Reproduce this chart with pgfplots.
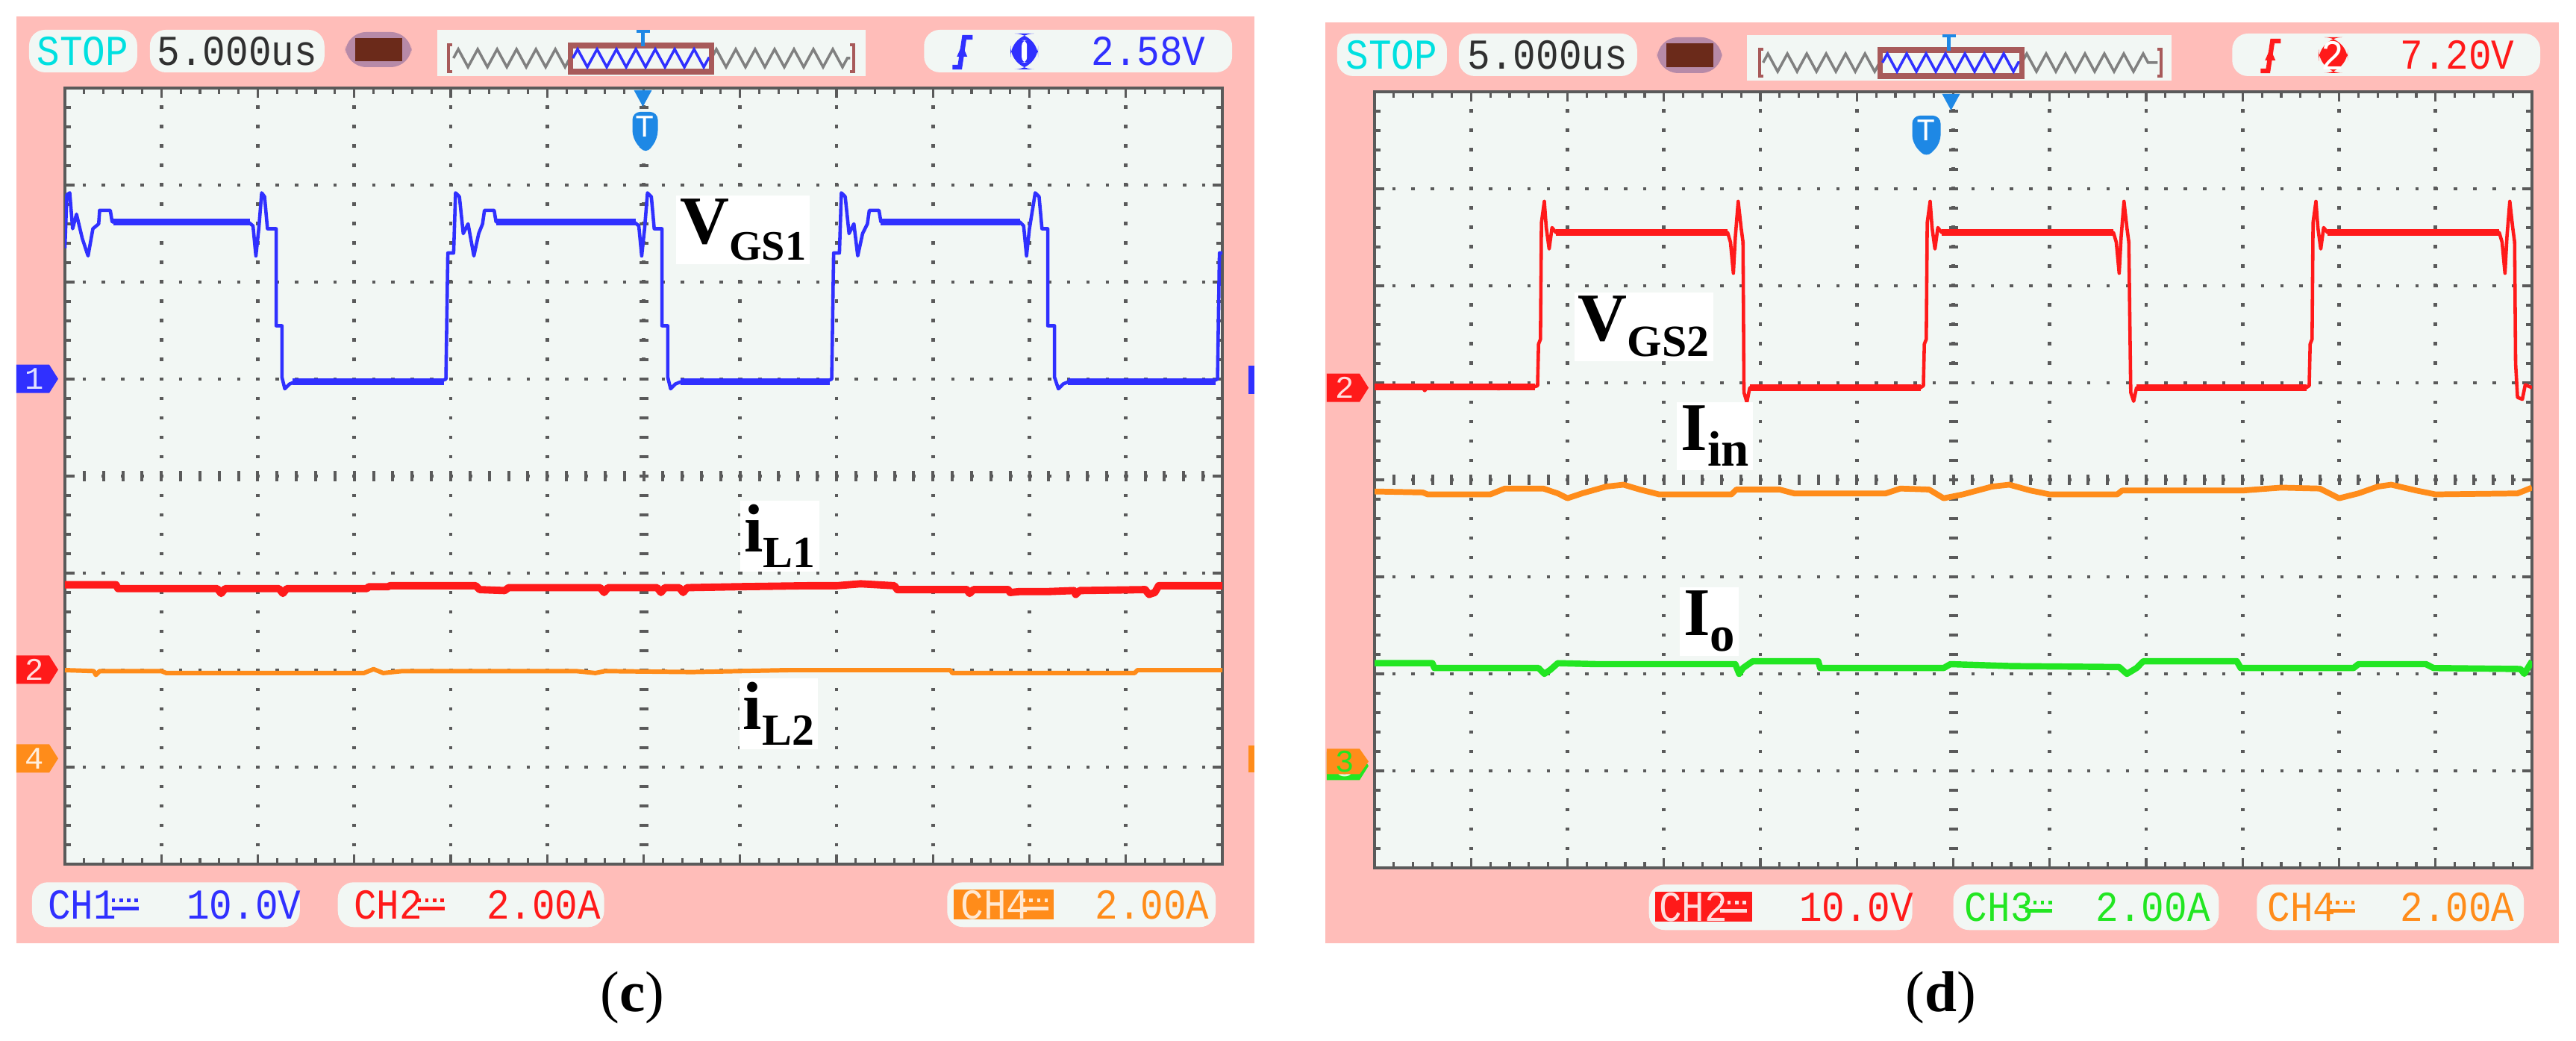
\documentclass[border=0pt]{standalone}
\usepackage{pgfplots}
\pgfplotsset{compat=1.18}
\usepackage{fontspec}
\setmainfont{Liberation Serif}
\newfontfamily\scopefont{Liberation Mono}
\usetikzlibrary{decorations.pathmorphing}

\definecolor{pinkf}{HTML}{FFBDB9}
\definecolor{scopebg}{HTML}{F2F7F4}
\definecolor{gridc}{HTML}{5A5A5A}
\definecolor{tblue}{HTML}{3030FF}
\definecolor{tred}{HTML}{FF1A1A}
\definecolor{torange}{HTML}{FF8C1A}
\definecolor{tgreen}{HTML}{22E622}
\definecolor{stopc}{HTML}{00E0E0}
\definecolor{txtgray}{HTML}{303030}
\definecolor{batt}{HTML}{6B2A1A}
\definecolor{battb}{HTML}{B78AA8}
\definecolor{winb}{HTML}{A85A5A}
\definecolor{trig}{HTML}{1E88E5}

% status-bar text: the scope's font is narrow and tall
\newcommand{\osc}[1]{\scalebox{1}[1.12]{\fontsize{14.5}{14.5}\selectfont\scopefont #1}}
% DC coupling sign: solid bar with dotted bar above, x = left, y = centre (px)
\newcommand{\dcs}[3]{%
  \draw[#1, line width=1.3pt] (#2,#3+5) -- ++(36,0);
  \draw[#1, line width=1.3pt, dash pattern=on 1.3pt off 1.6pt] (#2,#3-6) -- ++(36,0);}
% channel tag on the left edge, centre y (px)
\newcommand{\chtag}[4]{%
  \fill[#1] (#2,#3-19) -- (#2+44,#3-19) -- (#2+56,#3) -- (#2+44,#3+19) -- (#2,#3+19) -- cycle;
  \node[text=white!85!#1, font=\fontsize{12}{12}\selectfont\scopefont] at (#2+24,#3) {#4};}

\tikzset{lab/.style={fill=white, inner sep=1.5pt, text=black}}
\pgfplotsset{
  oscaxis/.style={
    width=15.51cm, height=10.40cm, scale only axis,
    xmin=0, xmax=12, ymin=0, ymax=8,
    xtick={0,...,12}, ytick={0,...,8},
    minor x tick num=4, minor y tick num=4,
    xticklabels={}, yticklabels={},
    tick align=inside, tick pos=both,
    major tick length=0.13cm, minor tick length=0.08cm,
    tick style={gridc, line width=0.9pt},
    grid=major,
    major x grid style={gridc, line width=1.3pt, dash pattern=on 1.3pt off 6.1pt, dash phase=0.65pt},
    major y grid style={gridc, line width=1.3pt, dash pattern=on 1.3pt off 6.06pt, dash phase=0.65pt},
    axis line style={gridc, line width=1.3pt},
    axis background/.style={fill=scopebg},
    unbounded coords=jump,
  },
}
\newcommand{\centrelines}{%
  \draw[gridc, line width=0.14cm, dash pattern=on 0.04cm off 0.2185cm, dash phase=0.02cm] (axis cs:0,4) -- (axis cs:12,4);
  \draw[gridc, line width=0.12cm, dash pattern=on 0.045cm off 0.215cm, dash phase=0.0225cm] (axis cs:6,0) -- (axis cs:6,8);}

\begin{document}
\begin{tikzpicture}
\path[use as bounding box] (0,0) rectangle (34.52,13.94);

% ---------- frames and status bars (pixel units of the reference) ----------
\begin{scope}[x=0.01cm, y=-0.01cm, yshift=13.94cm]
\fill[pinkf] (22,22) rectangle (1682,1265);
\fill[pinkf] (1777,30) rectangle (3431,1265);

% left header
\fill[scopebg, rounded corners=6] (39,40) rectangle (184,97);
\node[text=stopc] at (111,69) {\osc{STOP}};
\fill[scopebg, rounded corners=6] (201,40) rectangle (435,97);
\node[text=txtgray] at (318,69) {\osc{5.000us}};
\fill[battb, rounded corners=8] (463,43) rectangle (552,90);
\fill[batt] (476,51) rectangle (539,82);
\fill[scopebg] (586,40) rectangle (1161,102);
\draw[gray, line width=1pt, decorate, decoration={zigzag, segment length=7.4pt, amplitude=3.4pt}] (608,78) -- (765,78);
\draw[gray, line width=1pt, decorate, decoration={zigzag, segment length=7.4pt, amplitude=3.4pt}] (954,78) -- (1140,78);
\draw[winb, line width=1.2pt] (606,60) -- (601,60) -- (601,96) -- (606,96);
\draw[winb, line width=1.2pt] (1140,60) -- (1145,60) -- (1145,96) -- (1140,96);
\draw[winb, line width=2.2pt, fill=scopebg] (765,61) rectangle (954,96);
\draw[tblue, line width=1pt, decorate, decoration={zigzag, segment length=7.4pt, amplitude=3.4pt}] (768,78) -- (951,78);
\draw[trig, line width=1.3pt] (862,42) -- (862,62);
\draw[trig, line width=1.3pt] (853,42) -- (871,42);
\fill[scopebg, rounded corners=6] (1239,40) rectangle (1652,97);
\draw[tblue, line width=1.8pt] (1277,90) -- (1287,90) -- (1293,50) -- (1304,50);
\fill[tblue] (1290,60) -- (1283,76) -- (1297,76) -- cycle;
\fill[tblue, rounded corners=9] (1355,45) rectangle (1392,93);
\fill[white, rounded corners=2] (1370,54) rectangle (1377,84);
\node[text=tblue] at (1540,69) {\osc{2.58V}};

% left footer
\fill[scopebg, rounded corners=6] (43,1183) rectangle (402,1243);
\node[text=tblue, anchor=west] at (52,1213) {\osc{CH1}};
\dcs{tblue}{150}{1213}
\node[text=tblue, anchor=west] at (238,1213) {\osc{10.0V}};
\fill[scopebg, rounded corners=6] (453,1183) rectangle (810,1243);
\node[text=tred, anchor=west] at (462,1213) {\osc{CH2}};
\dcs{tred}{560}{1213}
\node[text=tred, anchor=west] at (640,1213) {\osc{2.00A}};
\fill[scopebg, rounded corners=6] (1270,1183) rectangle (1630,1243);
\fill[torange] (1279,1193) rectangle (1413,1233);
\node[text=white!80!torange, anchor=west] at (1276,1213) {\osc{CH4}};
\dcs{white!80!torange}{1370}{1213}
\node[text=torange, anchor=west] at (1456,1213) {\osc{2.00A}};

% right header
\fill[scopebg, rounded corners=6] (1793,45) rectangle (1940,102);
\node[text=stopc] at (1866,74) {\osc{STOP}};
\fill[scopebg, rounded corners=6] (1956,45) rectangle (2195,102);
\node[text=txtgray] at (2075,74) {\osc{5.000us}};
\fill[battb, rounded corners=8] (2222,50) rectangle (2309,98);
\fill[batt] (2234,58) rectangle (2297,90);
\fill[scopebg] (2342,47) rectangle (2912,108);
\draw[gray, line width=1pt, decorate, decoration={zigzag, segment length=7.4pt, amplitude=3.4pt}] (2364,84) -- (2521,84);
\draw[gray, line width=1pt, decorate, decoration={zigzag, segment length=7.4pt, amplitude=3.4pt}] (2711,84) -- (2893,84);
\draw[winb, line width=1.2pt] (2364,66) -- (2359,66) -- (2359,102) -- (2364,102);
\draw[winb, line width=1.2pt] (2893,66) -- (2898,66) -- (2898,102) -- (2893,102);
\draw[winb, line width=2.2pt, fill=scopebg] (2521,67) rectangle (2711,102);
\draw[tblue, line width=1pt, decorate, decoration={zigzag, segment length=7.4pt, amplitude=3.4pt}] (2524,84) -- (2708,84);
\draw[trig, line width=1.3pt] (2613,48) -- (2613,68);
\draw[trig, line width=1.3pt] (2604,48) -- (2622,48);
\fill[scopebg, rounded corners=6] (2993,45) rectangle (3406,102);
\draw[tred, line width=1.8pt] (3031,95) -- (3041,95) -- (3047,55) -- (3058,55);
\fill[tred] (3044,65) -- (3037,81) -- (3051,81) -- cycle;
\fill[tred, rounded corners=9] (3109,50) rectangle (3148,98);
\node[text=white] at (3128,74) {\osc{2}};
\node[text=tred] at (3295,74) {\osc{7.20V}};

% right footer
\fill[scopebg, rounded corners=6] (2211,1186) rectangle (2564,1247);
\fill[tred] (2219,1196) rectangle (2349,1236);
\node[text=white!85!tred, anchor=west] at (2212,1216) {\osc{CH2}};
\dcs{white!85!tred}{2306}{1216}
\node[text=tred, anchor=west] at (2400,1216) {\osc{10.0V}};
\fill[scopebg, rounded corners=6] (2619,1186) rectangle (2975,1247);
\node[text=tgreen, anchor=west] at (2622,1216) {\osc{CH3}};
\dcs{tgreen}{2716}{1216}
\node[text=tgreen, anchor=west] at (2798,1216) {\osc{2.00A}};
\fill[scopebg, rounded corners=6] (3026,1186) rectangle (3384,1247);
\node[text=torange, anchor=west] at (3028,1216) {\osc{CH4}};
\dcs{torange}{3122}{1216}
\node[text=torange, anchor=west] at (3206,1216) {\osc{2.00A}};

% captions
\node at (848,1338) {\fontsize{22}{22}\selectfont(\textbf{c})};
\node at (2602,1338) {\fontsize{22}{22}\selectfont(\textbf{d})};
\end{scope}

% ---------- panel (c) ----------
\begin{axis}[oscaxis, at={(0.87cm,2.36cm)}, anchor=south west]
\centrelines
% V_GS1, CH1
\addplot[tblue, line width=1.3pt, line join=round] coordinates {
(0,6.35)(0.02,6.9)(0.05,6.92)(0.08,6.55)(0.12,6.7)(0.18,6.45)(0.24,6.27)(0.29,6.55)(0.35,6.6)(0.36,6.74)(0.47,6.74)(0.49,6.62)(1.2,6.62)(1.9,6.62)
(1.95,6.58)(1.98,6.27)(2.01,6.55)(2.04,6.92)(2.07,6.88)(2.1,6.55)(2.19,6.55)(2.19,5.55)(2.25,5.55)(2.25,5.02)(2.28,4.9)(2.33,4.95)(2.38,4.97)(3.0,4.97)(3.9,4.98)(3.95,5.0)
(3.97,6.3)(4.03,6.3)(4.05,6.92)(4.09,6.88)(4.13,6.5)(4.18,6.6)(4.24,6.27)(4.29,6.5)(4.33,6.6)(4.35,6.74)(4.45,6.74)(4.47,6.62)(5.0,6.62)(5.9,6.62)
(5.95,6.58)(5.98,6.27)(6.01,6.55)(6.04,6.92)(6.08,6.88)(6.11,6.55)(6.19,6.55)(6.19,5.55)(6.25,5.55)(6.25,5.02)(6.28,4.9)(6.33,4.95)(6.38,4.97)(7.0,4.97)(7.9,4.98)(7.95,5.0)
(7.97,6.3)(8.03,6.3)(8.05,6.92)(8.09,6.88)(8.13,6.5)(8.18,6.6)(8.22,6.27)(8.27,6.5)(8.32,6.6)(8.34,6.74)(8.44,6.74)(8.46,6.62)(9.0,6.62)(9.9,6.62)
(9.94,6.58)(9.97,6.27)(10.0,6.55)(10.06,6.92)(10.1,6.88)(10.13,6.55)(10.19,6.55)(10.19,5.55)(10.26,5.55)(10.26,5.02)(10.3,4.9)(10.35,4.95)(10.4,4.97)(11.0,4.97)(11.9,4.98)(11.95,5.0)
(11.97,6.3)(12,6.3)
};
\addplot[tblue, line width=2.6pt] coordinates {
(0.5,6.62)(1.92,6.62)(1.92,nan)(4.47,6.62)(5.92,6.62)(5.92,nan)(8.46,6.62)(9.9,6.62)(9.9,nan)
(2.36,4.97)(3.93,4.97)(3.93,nan)(6.38,4.97)(7.93,4.97)(7.93,nan)(10.4,4.97)(11.93,4.97)
};
% i_L1, CH2
\addplot[tred, line width=2.8pt, line join=round] coordinates {
(0,2.88)(0.53,2.88)(0.55,2.84)(1.58,2.84)(1.62,2.79)(1.66,2.84)(2.22,2.84)(2.26,2.79)(2.3,2.84)(3.13,2.84)(3.15,2.86)(3.35,2.86)(3.37,2.87)(4.26,2.87)
(4.3,2.83)(4.56,2.82)(4.6,2.85)(5.55,2.85)(5.59,2.8)(5.63,2.85)(6.14,2.85)(6.18,2.8)(6.22,2.85)(6.37,2.85)(6.41,2.8)(6.45,2.85)(7.0,2.86)(7.7,2.87)
(8.0,2.87)(8.25,2.89)(8.6,2.87)(8.63,2.83)(9.35,2.83)(9.38,2.79)(9.42,2.83)(9.78,2.83)(9.8,2.8)(9.9,2.81)(10.2,2.81)(10.46,2.82)(10.48,2.78)(10.52,2.82)
(11.2,2.83)(11.24,2.78)(11.3,2.8)(11.34,2.87)(12,2.87)
};
% i_L2, CH4
\addplot[torange, line width=1.7pt, line join=round] coordinates {
(0,2.0)(0.3,1.99)(0.32,1.95)(0.36,1.99)(1.0,1.99)(1.05,1.97)(3.1,1.97)(3.2,2.01)(3.3,1.97)(3.5,1.99)(4.4,1.99)(5.3,1.99)(5.5,1.97)(5.6,1.99)
(6.5,1.98)(7.5,2.0)(9.18,2.0)(9.2,1.97)(11.09,1.97)(11.12,2.0)(12,2.0)
};
\node[lab] at (axis cs:7.03,6.54) {\fontsize{26}{26}\selectfont\textbf{V}\raisebox{-6pt}{\fontsize{16}{16}\selectfont\textbf{GS1}}};
\node[lab] at (axis cs:7.41,3.38) {\fontsize{26}{26}\selectfont\textbf{i}\raisebox{-6pt}{\fontsize{17}{17}\selectfont\textbf{L1}}};
\node[lab] at (axis cs:7.40,1.55) {\fontsize{26}{26}\selectfont\textbf{i}\raisebox{-6pt}{\fontsize{17}{17}\selectfont\textbf{L2}}};
\end{axis}

% ---------- panel (d) ----------
\begin{axis}[oscaxis, at={(18.42cm,2.31cm)}, anchor=south west]
\centrelines
% V_GS2, CH2
\addplot[tred, line width=1.3pt, line join=round] coordinates {
(0,4.96)(0.5,4.95)(0.52,4.92)(0.55,4.96)(1.3,4.94)(1.32,4.96)(1.66,4.96)(1.69,4.97)(1.70,5.4)(1.72,5.45)(1.73,6.65)(1.76,6.87)(1.78,6.6)(1.81,6.38)(1.84,6.6)(1.88,6.55)
(3.66,6.55)(3.69,6.45)(3.72,6.13)(3.74,6.5)(3.77,6.87)(3.80,6.6)(3.82,6.45)(3.83,4.9)(3.86,4.8)(3.89,4.95)
(5.66,4.95)(5.69,4.97)(5.70,5.4)(5.72,5.45)(5.73,6.65)(5.76,6.87)(5.78,6.6)(5.81,6.38)(5.84,6.6)(5.88,6.55)
(7.66,6.55)(7.69,6.45)(7.72,6.13)(7.74,6.5)(7.77,6.87)(7.80,6.6)(7.82,6.45)(7.84,4.9)(7.87,4.81)(7.9,4.95)
(9.66,4.95)(9.69,4.97)(9.70,5.4)(9.72,5.45)(9.73,6.65)(9.76,6.87)(9.78,6.6)(9.81,6.38)(9.84,6.6)(9.88,6.55)
(11.66,6.55)(11.69,6.45)(11.72,6.13)(11.74,6.5)(11.77,6.87)(11.80,6.6)(11.82,6.45)(11.83,5.2)(11.85,4.85)(11.9,4.83)(11.93,4.98)(12,4.95)
};
\addplot[tred, line width=2.6pt] coordinates {
(0,4.96)(1.66,4.96)(1.66,nan)(3.89,4.95)(5.66,4.95)(5.66,nan)(7.9,4.95)(9.66,4.95)(9.66,nan)
(1.88,6.55)(3.66,6.55)(3.66,nan)(5.88,6.55)(7.66,6.55)(7.66,nan)(9.88,6.55)(11.66,6.55)
};
% I_in, CH4
\addplot[torange, line width=2.2pt, line join=round] coordinates {
(0,3.88)(0.5,3.87)(0.55,3.85)(1.2,3.85)(1.35,3.91)(1.75,3.91)(1.9,3.86)(2.0,3.81)(2.15,3.86)(2.4,3.93)(2.58,3.95)(2.75,3.9)(2.95,3.85)(3.7,3.85)
(3.75,3.9)(4.2,3.9)(4.35,3.86)(5.3,3.86)(5.45,3.91)(5.75,3.9)(5.9,3.81)(6.1,3.85)(6.4,3.93)(6.58,3.95)(6.8,3.89)(7.0,3.85)(7.7,3.85)(7.75,3.89)
(9.0,3.89)(9.4,3.92)(9.8,3.91)(10.0,3.81)(10.2,3.86)(10.4,3.93)(10.54,3.95)(10.8,3.89)(11.0,3.85)(11.85,3.86)(12,3.92)
};
% I_o, CH3
\addplot[tgreen, line width=2.4pt, line join=round] coordinates {
(0,2.11)(0.6,2.11)(0.62,2.06)(1.7,2.06)(1.76,2.0)(1.82,2.04)(1.9,2.11)(2.3,2.1)(3.74,2.1)(3.78,2.0)(3.82,2.06)(3.92,2.13)(4.6,2.13)(4.62,2.06)
(5.9,2.06)(5.97,2.1)(6.6,2.08)(7.72,2.07)(7.8,2.0)(7.9,2.06)(7.97,2.13)(8.94,2.13)(8.98,2.06)(10.15,2.06)(10.2,2.1)(10.9,2.1)(10.98,2.06)
(11.88,2.05)(11.92,2.0)(12,2.13)
};
\node[lab] at (axis cs:2.79,5.58) {\fontsize{26}{26}\selectfont\textbf{V}\raisebox{-6pt}{\fontsize{17}{17}\selectfont\textbf{GS2}}};
\node[lab] at (axis cs:3.53,4.45) {\fontsize{26}{26}\selectfont\textbf{I}\raisebox{-6pt}{\fontsize{19}{19}\selectfont\textbf{in}}};
\node[lab] at (axis cs:3.47,2.54) {\fontsize{26}{26}\selectfont\textbf{I}\raisebox{-6pt}{\fontsize{19}{19}\selectfont\textbf{o}}};
\end{axis}

% ---------- tags and trigger flags ----------
\begin{scope}[x=0.01cm, y=-0.01cm, yshift=13.94cm]
\chtag{tblue}{22}{508}{1}
\chtag{tred}{22}{898}{2}
\chtag{torange}{22}{1017}{4}
\fill[tblue] (1674,490) rectangle (1682,528);
\fill[torange] (1674,1000) rectangle (1682,1036);
\fill[trig] (850,121) -- (874,121) -- (862,143) -- cycle;
\fill[trig, rounded corners=3] (848,150) -- (882,150) -- (882,186) -- (866,207) -- (848,186) -- cycle;
\node[text=white, font=\fontsize{12}{12}\selectfont\scopefont] at (865,170) {T};
\chtag{tred}{1779}{520}{2}
\chtag{tgreen}{1779}{1027}{3}
\fill[torange] (1779,1004) -- (1823,1004) -- (1835,1021) -- (1823,1038) -- (1779,1038) -- cycle;
\node[text=tgreen, font=\fontsize{12}{12}\selectfont\scopefont] at (1803,1021) {3};
\fill[trig] (2604,126) -- (2628,126) -- (2616,148) -- cycle;
\fill[trig, rounded corners=3] (2564,155) -- (2602,155) -- (2602,192) -- (2583,212) -- (2564,192) -- cycle;
\node[text=white, font=\fontsize{12}{12}\selectfont\scopefont] at (2583,175) {T};
\end{scope}
\end{tikzpicture}
\end{document}
